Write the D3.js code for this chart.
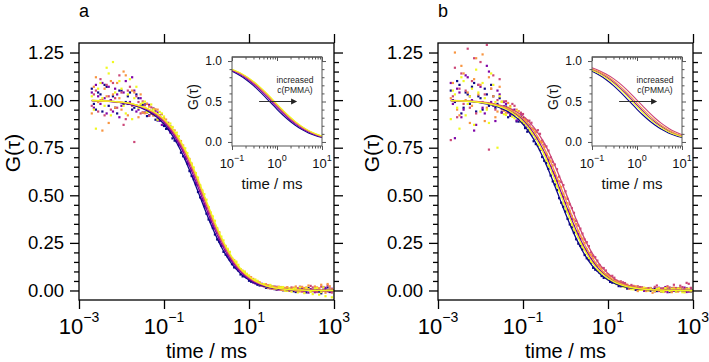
<!DOCTYPE html>
<html>
<head>
<meta charset="utf-8">
<script src="https://cdn.jsdelivr.net/npm/d3@7"></script>
<style>
  body { margin: 0; background: #fff; }
  svg { display: block; font-family: "Liberation Sans", Arial, sans-serif; }
</style>
</head>
<body>
<svg id="chart" width="709" height="362"></svg>
<script>
"use strict";

// lag times of the measured correlation curves (ms)
var lagTimes = [0.0020, 0.00224, 0.0025, 0.00282, 0.0032, 0.00355, 0.0040, 0.00447, 0.0050, 0.00562,
  0.0063, 0.00708, 0.0079, 0.00891, 0.0100, 0.0112, 0.0126, 0.0141, 0.0158, 0.0178,
  0.0200, 0.0224, 0.0251, 0.0282,
  0.0316, 0.0355, 0.0398, 0.0447, 0.0501, 0.0562, 0.0631, 0.0708, 0.0794, 0.0891,
  0.1, 0.112, 0.126, 0.141, 0.158, 0.178, 0.2, 0.224, 0.251, 0.282,
  0.316, 0.355, 0.398, 0.447, 0.501, 0.562, 0.631, 0.708, 0.794, 0.891,
  1, 1.12, 1.26, 1.41, 1.58, 1.78, 2, 2.24, 2.51, 2.82,
  3.16, 3.55, 3.98, 4.47, 5.01, 5.62, 6.31, 7.08, 7.94, 8.91,
  10, 11.2, 12.6, 14.1, 15.8, 17.8, 20, 22.4, 25.1, 28.2,
  31.6, 35.5, 39.8, 44.7, 50.1, 56.2, 63.1, 70.8, 79.4, 89.1,
  100, 112, 126, 141, 158, 178, 200, 224, 251, 282,
  316, 355, 398, 447, 501, 562, 631, 708, 794, 891];

// times at which the fitted curves are given (ms)
var fitTimes = [0.002, 0.005, 0.01, 0.02, 0.04, 0.07, 0.1, 0.15, 0.2, 0.3, 0.4, 0.55, 0.75, 1,
  1.35, 1.8, 2.5, 3.5, 5, 7, 10, 15, 25, 50, 100, 250, 1000];

// panel a - measured G(tau)
var navyA = [1.06, 0.98, 0.95, 1.04, 1.03, 0.94, 1.08, 1.07, 0.97, 1.00, 1.02, 0.96, 0.93, 1.05, 1.05, 0.98, 0.99, 1.02, 1.04, 0.95, 0.96, 1.03, 1.01, 0.97,
  0.976, 0.977, 0.916, 0.920, 0.943, 0.955, 0.897, 0.893, 0.912, 0.897, 0.864, 0.849, 0.858, 0.839, 0.799, 0.787, 0.783, 0.770, 0.724, 0.705,
  0.693, 0.667, 0.627, 0.601, 0.584, 0.557, 0.517, 0.489, 0.473, 0.443, 0.403, 0.373, 0.359, 0.328, 0.294, 0.268, 0.256, 0.235, 0.203, 0.188,
  0.178, 0.163, 0.138, 0.121, 0.120, 0.106, 0.084, 0.074, 0.076, 0.069, 0.051, 0.046, 0.052, 0.043, 0.030, 0.026, 0.029, 0.028,
  0.014, 0.013, 0.020, 0.020, 0.007, 0.004, 0.015, 0.013, 0.001, 0.002, 0.007, 0.009,
  0.011, -0.004, -0.008, 0.007, 0.006, 0.012, -0.005, -0.010, 0.013, 0.003, -0.003, 0.010, 0.009, -0.006, -0.015, 0.004, 0.006, 0.016, -0.008, -0.002];
var purpleA = [1.04, 0.96, 1.08, 1.02, 0.98, 1.09, 1.01, 0.93, 1.07, 1.00, 0.94, 1.06, 1.03, 0.91, 0.97, 1.04, 1.10, 0.98, 0.99, 1.12, 1.05, 0.94, 0.95, 1.01,
  0.935, 0.935, 0.980, 0.975, 0.928, 0.921, 0.944, 0.935, 0.891, 0.870, 0.896, 0.881, 0.848, 0.829, 0.843, 0.817, 0.785, 0.763, 0.762, 0.741,
  0.699, 0.675, 0.661, 0.634, 0.598, 0.566, 0.554, 0.523, 0.481, 0.455, 0.433, 0.407, 0.365, 0.341, 0.326, 0.303, 0.268, 0.244, 0.234, 0.213,
  0.182, 0.163, 0.157, 0.141, 0.118, 0.106, 0.107, 0.096, 0.075, 0.066, 0.067, 0.060, 0.041, 0.037, 0.040, 0.037, 0.035, 0.022,
  0.027, 0.025, 0.011, 0.009, 0.020, 0.019, 0.005, 0.004, 0.013, 0.012, -0.002, -0.002,
  -0.002, 0.006, 0.014, -0.005, -0.001, 0.011, 0.008, 0.002, -0.011, 0.007, 0.004, -0.009, 0.010, 0.003, -0.006, 0.018, 0.014, -0.004, -0.005, 0.009];
var pinkA = [0.97, 1.03, 1.05, 0.94, 1.11, 1.00, 0.92, 1.08, 1.02, 0.95, 1.09, 1.01, 0.96, 1.13, 1.04, 0.87, 0.90, 1.05, 1.07, 0.97, 0.78, 1.02, 0.99, 0.93,
  0.993, 0.973, 0.934, 0.918, 0.962, 0.956, 0.918, 0.900, 0.921, 0.926, 0.879, 0.871, 0.881, 0.864, 0.831, 0.808, 0.814, 0.791, 0.756, 0.733,
  0.728, 0.703, 0.666, 0.642, 0.624, 0.597, 0.556, 0.526, 0.509, 0.481, 0.453, 0.415, 0.385, 0.370, 0.343, 0.304, 0.281, 0.266, 0.244, 0.214,
  0.191, 0.186, 0.169, 0.140, 0.129, 0.122, 0.111, 0.091, 0.079, 0.083, 0.074, 0.054, 0.048, 0.050, 0.046, 0.030, 0.025, 0.032,
  0.020, 0.014, 0.026, 0.020, 0.009, 0.006, 0.016, 0.018, 0.004, 0.001, 0.015, 0.008,
  0.016, 0.004, -0.002, 0.012, 0.020, -0.006, -0.009, 0.015, 0.007, 0.024, 0.016, -0.004, -0.008, 0.010, 0.020, 0.002, -0.003, 0.027, 0.011, -0.011];
var orangeA = [0.93, 1.07, 1.12, 0.99, 1.00, 0.84, 1.06, 1.02, 0.88, 1.10, 1.03, 0.96, 1.09, 1.01, 0.95, 1.15, 1.13, 0.92, 0.98, 1.05, 1.04, 0.97, 0.91, 1.03,
  0.935, 0.931, 0.981, 0.966, 0.930, 0.919, 0.952, 0.950, 0.906, 0.897, 0.906, 0.898, 0.861, 0.851, 0.857, 0.841, 0.806, 0.783, 0.785, 0.762,
  0.727, 0.705, 0.691, 0.667, 0.626, 0.600, 0.581, 0.552, 0.525, 0.483, 0.454, 0.437, 0.409, 0.370, 0.345, 0.327, 0.306, 0.265, 0.245, 0.234,
  0.213, 0.186, 0.167, 0.160, 0.147, 0.119, 0.110, 0.104, 0.096, 0.075, 0.063, 0.070, 0.061, 0.045, 0.047, 0.043, 0.028, 0.023,
  0.033, 0.027, 0.014, 0.009, 0.019, 0.017, 0.020, 0.004, 0.002, 0.014, 0.017, 0.001,
  0.009, 0.015, 0.021, 0.003, -0.005, 0.019, 0.013, 0.008, 0.026, -0.006, -0.003, 0.021, 0.016, 0.011, 0.030, -0.002, -0.012, 0.034, 0.022, 0.006];
var yellowA = [1.02, 0.95, 0.85, 1.06, 1.09, 1.01, 0.97, 1.17, 1.14, 0.92, 1.20, 1.04, 0.99, 1.10, 1.06, 0.97, 0.93, 1.03, 1.11, 0.90, 1.01, 1.07, 0.96, 0.98,
  0.986, 0.992, 0.937, 0.938, 0.977, 0.951, 0.919, 0.897, 0.938, 0.930, 0.914, 0.879, 0.867, 0.877, 0.859, 0.826, 0.829, 0.810, 0.775, 0.749,
  0.747, 0.722, 0.687, 0.662, 0.646, 0.617, 0.593, 0.551, 0.523, 0.506, 0.477, 0.437, 0.407, 0.389, 0.366, 0.323, 0.302, 0.283, 0.263, 0.230,
  0.219, 0.203, 0.170, 0.156, 0.152, 0.135, 0.112, 0.101, 0.100, 0.088, 0.079, 0.059, 0.052, 0.058, 0.051, 0.035, 0.031, 0.034,
  0.021, 0.017, 0.029, 0.022, 0.011, 0.009, 0.017, 0.017, 0.018, -0.001, -0.002, 0.011,
  -0.006, 0.008, 0.011, -0.010, 0.016, 0.003, -0.014, 0.014, 0.006, -0.007, -0.019, 0.010, 0.012, -0.022, -0.008, 0.017, -0.030, 0.002, 0.004, -0.036];

// panel a - fitted curves
var navyFitA = [0.997, 0.993, 0.986, 0.972, 0.945, 0.908, 0.873, 0.821, 0.775, 0.696, 0.631, 0.554, 0.476, 0.404,
  0.333, 0.271, 0.209, 0.156, 0.112, 0.080, 0.055, 0.035, 0.019, 0.008, 0.003, 0.001, 0.000];
var purpleFitA = [0.997, 0.994, 0.987, 0.974, 0.950, 0.916, 0.883, 0.835, 0.791, 0.716, 0.653, 0.578, 0.500, 0.427,
  0.355, 0.290, 0.226, 0.170, 0.123, 0.089, 0.061, 0.039, 0.022, 0.009, 0.004, 0.001, 0.000];
var pinkFitA = [0.998, 0.994, 0.988, 0.976, 0.953, 0.921, 0.891, 0.845, 0.803, 0.731, 0.670, 0.596, 0.519, 0.446,
  0.372, 0.307, 0.239, 0.181, 0.132, 0.095, 0.066, 0.043, 0.024, 0.010, 0.004, 0.001, 0.000];
var orangeFitA = [0.998, 0.994, 0.989, 0.977, 0.956, 0.925, 0.897, 0.852, 0.812, 0.742, 0.683, 0.610, 0.534, 0.461,
  0.386, 0.319, 0.251, 0.191, 0.139, 0.101, 0.071, 0.046, 0.025, 0.011, 0.004, 0.001, 0.000];
var yellowFitA = [0.998, 0.995, 0.989, 0.978, 0.957, 0.928, 0.900, 0.857, 0.817, 0.749, 0.690, 0.618, 0.542, 0.469,
  0.395, 0.327, 0.257, 0.196, 0.143, 0.104, 0.073, 0.047, 0.026, 0.011, 0.004, 0.001, 0.000];

// panel b - measured G(tau)
var navyB = [1.05, 1.00, 0.99, 1.10, 1.08, 0.93, 0.96, 1.04, 1.03, 0.98, 1.07, 1.09, 0.94, 1.02, 1.01, 0.95, 1.06, 1.03, 0.97, 1.08, 1.02, 0.96, 0.98, 1.01,
  0.936, 0.967, 0.966, 0.910, 0.918, 0.945, 0.927, 0.888, 0.887, 0.912, 0.882, 0.853, 0.834, 0.843, 0.824, 0.784, 0.769, 0.762, 0.740, 0.701,
  0.681, 0.669, 0.639, 0.604, 0.573, 0.557, 0.528, 0.485, 0.461, 0.440, 0.415, 0.376, 0.347, 0.332, 0.304, 0.269, 0.246, 0.234, 0.216, 0.186,
  0.169, 0.162, 0.147, 0.119, 0.109, 0.105, 0.094, 0.076, 0.066, 0.071, 0.063, 0.045, 0.041, 0.042, 0.039, 0.023, 0.022, 0.027,
  0.026, 0.010, 0.011, 0.017, 0.018, 0.003, 0.002, 0.016, 0.011, 0.000, 0.008, 0.007,
  -0.002, 0.005, 0.011, -0.003, 0.006, 0.009, -0.007, 0.002, 0.012, -0.008, -0.005, 0.010, 0.007, -0.002, 0.013, 0.004, -0.004, 0.011, 0.006, -0.006];
var purpleB = [1.09, 0.98, 0.80, 1.06, 1.04, 0.91, 0.95, 1.13, 1.12, 1.02, 1.00, 0.84, 0.87, 1.08, 1.07, 0.96, 0.93, 1.18, 1.15, 0.99, 0.97, 0.89, 1.05, 1.03,
  0.934, 0.990, 0.980, 0.935, 0.924, 0.948, 0.950, 0.893, 0.902, 0.925, 0.906, 0.873, 0.860, 0.870, 0.852, 0.818, 0.797, 0.801, 0.779, 0.739,
  0.721, 0.710, 0.686, 0.649, 0.623, 0.603, 0.576, 0.537, 0.507, 0.492, 0.460, 0.423, 0.404, 0.376, 0.339, 0.311, 0.297, 0.272, 0.240, 0.219,
  0.212, 0.193, 0.164, 0.148, 0.142, 0.129, 0.104, 0.095, 0.092, 0.083, 0.075, 0.055, 0.049, 0.055, 0.046, 0.033, 0.027, 0.032,
  0.032, 0.016, 0.014, 0.021, 0.020, 0.008, 0.005, 0.016, 0.016, -0.001, 0.002, 0.011,
  0.013, 0.003, -0.004, 0.010, 0.014, -0.006, 0.005, 0.018, -0.009, 0.006, 0.013, -0.002, -0.005, 0.012, 0.008, 0.001, 0.015, -0.008, -0.006, 0.010];
var pinkB = [0.79, 1.02, 1.17, 0.91, 1.06, 1.14, 0.98, 1.05, 1.27, 0.96, 1.10, 1.22, 0.93, 1.08, 1.20, 0.99, 1.03, 1.29, 0.74, 1.06, 1.13, 0.95, 1.00, 1.11,
  0.951, 0.993, 0.994, 0.940, 0.936, 0.980, 0.970, 0.923, 0.916, 0.934, 0.927, 0.894, 0.887, 0.892, 0.881, 0.848, 0.833, 0.842, 0.823, 0.787,
  0.767, 0.757, 0.735, 0.699, 0.675, 0.662, 0.637, 0.598, 0.570, 0.554, 0.521, 0.481, 0.452, 0.433, 0.408, 0.366, 0.341, 0.325, 0.299, 0.268,
  0.254, 0.233, 0.200, 0.182, 0.175, 0.157, 0.134, 0.118, 0.118, 0.105, 0.084, 0.075, 0.077, 0.067, 0.051, 0.045, 0.048, 0.043,
  0.039, 0.025, 0.018, 0.029, 0.024, 0.012, 0.022, 0.018, 0.005, 0.006, 0.012, 0.012,
  0.012, 0.005, 0.019, 0.026, -0.003, 0.010, 0.012, -0.005, 0.022, 0.016, -0.003, 0.030, 0.013, 0.002, 0.025, 0.018, 0.008, 0.040, 0.035, 0.014];
var orangeB = [1.01, 1.09, 1.25, 0.95, 0.92, 1.18, 1.14, 1.00, 1.04, 0.88, 0.97, 1.11, 1.22, 1.03, 1.08, 1.24, 0.89, 0.96, 1.12, 1.06, 1.02, 0.91, 0.94, 1.07,
  0.992, 0.944, 0.934, 0.985, 0.969, 0.933, 0.922, 0.950, 0.942, 0.888, 0.894, 0.903, 0.894, 0.855, 0.849, 0.847, 0.835, 0.798, 0.780, 0.780,
  0.754, 0.719, 0.696, 0.682, 0.657, 0.616, 0.590, 0.575, 0.544, 0.508, 0.488, 0.459, 0.418, 0.391, 0.373, 0.349, 0.311, 0.286, 0.273, 0.250,
  0.217, 0.196, 0.188, 0.169, 0.143, 0.130, 0.127, 0.116, 0.094, 0.083, 0.082, 0.073, 0.055, 0.048, 0.051, 0.046, 0.042, 0.029,
  0.020, 0.031, 0.009, 0.014, 0.021, 0.022, -0.003, 0.006, 0.015, 0.014, -0.003, 0.000,
  0.009, -0.012, -0.004, 0.006, 0.013, -0.002, -0.003, 0.011, 0.016, 0.003, -0.009, 0.015, 0.007, -0.006, 0.012, 0.004, -0.004, 0.010, 0.009, -0.003];
var yellowB = [0.90, 1.05, 1.03, 0.96, 0.85, 1.12, 1.10, 0.92, 0.98, 1.02, 1.06, 0.87, 1.16, 1.04, 0.94, 1.09, 1.01, 0.95, 0.88, 1.14, 1.08, 0.99, 0.75, 1.02,
  0.991, 0.926, 0.922, 0.961, 0.960, 0.913, 0.905, 0.942, 0.923, 0.887, 0.877, 0.887, 0.873, 0.837, 0.823, 0.825, 0.807, 0.765, 0.744, 0.742,
  0.716, 0.683, 0.655, 0.643, 0.614, 0.575, 0.547, 0.526, 0.501, 0.457, 0.430, 0.412, 0.383, 0.346, 0.319, 0.304, 0.282, 0.245, 0.227, 0.217,
  0.196, 0.170, 0.150, 0.146, 0.130, 0.108, 0.097, 0.095, 0.086, 0.067, 0.059, 0.063, 0.057, 0.040, 0.033, 0.039, 0.032, 0.020,
  0.017, 0.025, 0.023, 0.007, 0.006, 0.015, 0.014, 0.003, 0.003, 0.013, 0.011, 0.000,
  0.010, 0.002, -0.001, 0.008, 0.010, -0.005, -0.008, 0.012, 0.004, -0.003, 0.010, 0.006, -0.006, 0.011, 0.005, -0.009, -0.010, 0.004, 0.007, -0.004];

// panel b - fitted curves
var navyFitB = [0.997, 0.993, 0.986, 0.972, 0.945, 0.908, 0.873, 0.821, 0.775, 0.696, 0.631, 0.554, 0.476, 0.404,
  0.333, 0.271, 0.209, 0.156, 0.112, 0.080, 0.055, 0.035, 0.019, 0.008, 0.003, 0.001, 0.000];
var purpleFitB = [0.998, 0.994, 0.988, 0.977, 0.955, 0.924, 0.894, 0.849, 0.809, 0.738, 0.678, 0.605, 0.528, 0.455,
  0.381, 0.314, 0.246, 0.187, 0.136, 0.099, 0.069, 0.044, 0.025, 0.011, 0.004, 0.001, 0.000];
var pinkFitB = [0.998, 0.995, 0.991, 0.982, 0.964, 0.939, 0.916, 0.878, 0.844, 0.783, 0.730, 0.662, 0.589, 0.517,
  0.442, 0.371, 0.296, 0.229, 0.170, 0.125, 0.089, 0.058, 0.033, 0.015, 0.006, 0.002, 0.000];
var orangeFitB = [0.998, 0.995, 0.989, 0.979, 0.959, 0.930, 0.903, 0.862, 0.824, 0.757, 0.700, 0.628, 0.553, 0.480,
  0.405, 0.337, 0.266, 0.203, 0.149, 0.109, 0.076, 0.050, 0.028, 0.012, 0.005, 0.001, 0.000];
var yellowFitB = [0.997, 0.994, 0.987, 0.975, 0.952, 0.918, 0.887, 0.840, 0.797, 0.724, 0.662, 0.587, 0.510, 0.437,
  0.364, 0.299, 0.233, 0.176, 0.127, 0.092, 0.064, 0.041, 0.023, 0.010, 0.004, 0.001, 0.000];

// axis ticks
var yMajor = [0, 0.25, 0.5, 0.75, 1.0, 1.25];
var xMajor = [1e-3, 1e-1, 1e1, 1e3];
var xTopTicks = [1e-1, 1e1, 1e3];
var insetXMajor = [0.1, 1, 10];
var insetYMajor = [0, 0.5, 1.0];

// plasma colours
var colors = ["#0d0887", "#7e03a8", "#cc4778", "#f89540", "#f0f921"];

var plotTop = 43, plotBottom = 300, plotW = 255;
var insetTop = 57, insetBottom = 146, insetW = 90;

var svg = d3.select("#chart");

function drawAxis(g, axis, tx, ty, color, width) {
  var ga = g.append("g")
    .attr("transform", "translate(" + tx + "," + ty + ")")
    .call(axis);
  ga.select(".domain").remove();
  ga.selectAll("line").style("stroke", color).style("stroke-width", width);
  ga.attr("font-family", null);
  return ga;
}

function drawPanel(p) {
  var x = d3.scaleLog().domain([1e-3, 1e3]).range([p.left, p.left + plotW]);
  var y = d3.scaleLinear().domain([-0.05, 1.3]).range([plotBottom, plotTop]);
  var g = svg.append("g").attr("class", "panel-" + p.label);

  //measured points
  p.points.forEach(function(vals, k){
    g.append("g").selectAll("rect")
      .data(vals.slice(0, lagTimes.length)).enter().append("rect")
      .attr("x", function(d, i){ return x(lagTimes[i]) - 1.1; })
      .attr("y", function(d){ return y(d) - 1.1; })
      .attr("width", 2.2)
      .attr("height", 2.2)
      .style("fill", colors[k]);
  });

  //fitted curves
  var line = d3.line()
    .x(function(d){ return x(d[0]); })
    .y(function(d){ return y(d[1]); })
    .curve(d3.curveMonotoneX);
  p.fits.forEach(function(vals, k){
    g.append("path")
      .datum(fitTimes.map(function(t, i){ return [t, vals[i]]; }))
      .attr("d", line)
      .style("fill", "none")
      .style("stroke", colors[k])
      .style("stroke-width", 1.3);
  });

  //frame and ticks
  g.append("rect")
    .attr("x", p.left).attr("y", plotTop)
    .attr("width", plotW).attr("height", plotBottom - plotTop)
    .style("fill", "none").style("stroke", "#000").style("stroke-width", 1.3);

  var yMinor = d3.range(1, 26).map(function(i){ return i * 0.05; })
    .filter(function(v){ return Math.abs(v / 0.25 - Math.round(v / 0.25)) > 1e-6; });

  var leftAx = drawAxis(g, d3.axisLeft(y).tickValues(yMajor).tickSize(9).tickPadding(6)
    .tickFormat(d3.format(".2f")), p.left, 0, "#000", 1.3);
  leftAx.selectAll("text").style("font-size", "18.5px").style("fill", "#000");
  drawAxis(g, d3.axisLeft(y).tickValues(yMinor).tickSize(5).tickFormat(""), p.left, 0, "#000", 1.3);
  drawAxis(g, d3.axisRight(y).tickValues(yMajor).tickSize(9).tickFormat(""), p.left + plotW, 0, "#000", 1.3);
  drawAxis(g, d3.axisRight(y).tickValues(yMinor).tickSize(5).tickFormat(""), p.left + plotW, 0, "#000", 1.3);
  drawAxis(g, d3.axisBottom(x).tickValues(xMajor).tickSize(9).tickFormat(""), 0, plotBottom, "#000", 1.3);
  drawAxis(g, d3.axisTop(x).tickValues(xTopTicks).tickSize(9).tickFormat(""), 0, plotTop, "#000", 1.3);

  //x tick labels with powers of ten
  var xl = g.selectAll(".xlab").data(xMajor).enter().append("text")
    .attr("class", "xlab")
    .attr("x", function(d){ return x(d); })
    .attr("y", 334)
    .attr("text-anchor", "middle");
  xl.append("tspan").text("10").style("font-size", "22px");
  xl.append("tspan")
    .text(function(d){ return String(Math.round(Math.log10(d))).replace("-", "\u2212"); })
    .attr("dy", -12)
    .style("font-size", "14px");

  //axis titles
  g.append("text")
    .attr("x", p.left + plotW / 2).attr("y", 357.5)
    .attr("text-anchor", "middle")
    .style("font-size", "20px")
    .text("time / ms");
  g.append("text")
    .attr("transform", "translate(" + (p.left - 59) + ",153) rotate(-90)")
    .attr("text-anchor", "middle")
    .style("font-size", "21px")
    .text("G(\u03c4)");
  g.append("text")
    .attr("x", p.left).attr("y", 17)
    .style("font-size", "18px")
    .text(p.label);

  drawInset(g, p);
}

function drawInset(g, p) {
  var ix = d3.scaleLog().domain([0.1, 10]).range([p.insetLeft, p.insetLeft + insetW]);
  var iy = d3.scaleLinear().domain([-0.05, 1.05]).range([insetBottom, insetTop]);
  var gi = g.append("g").attr("class", "inset");

  gi.append("rect")
    .attr("x", p.insetLeft).attr("y", insetTop)
    .attr("width", insetW).attr("height", insetBottom - insetTop)
    .style("fill", "#fff");

  var line = d3.line()
    .x(function(d){ return ix(d[0]); })
    .y(function(d){ return iy(d[1]); })
    .curve(d3.curveMonotoneX);
  p.fits.forEach(function(vals, k){
    var pts = fitTimes.map(function(t, i){ return [t, vals[i]]; })
      .filter(function(d){ return d[0] >= 0.1 && d[0] <= 10; });
    gi.append("path").datum(pts)
      .attr("d", line)
      .style("fill", "none")
      .style("stroke", colors[k])
      .style("stroke-width", 1.1);
  });

  gi.append("rect")
    .attr("x", p.insetLeft).attr("y", insetTop)
    .attr("width", insetW).attr("height", insetBottom - insetTop)
    .style("fill", "none").style("stroke", "#555").style("stroke-width", 1);
  gi.append("line")
    .attr("x1", p.insetLeft).attr("x2", p.insetLeft + insetW)
    .attr("y1", insetTop).attr("y2", insetTop)
    .style("stroke", "#777").style("stroke-width", 1.8);

  var xMinor = [0.2, 0.3, 0.4, 0.5, 0.6, 0.7, 0.8, 0.9, 2, 3, 4, 5, 6, 7, 8, 9];
  var yMinor = [0.1, 0.2, 0.3, 0.4, 0.6, 0.7, 0.8, 0.9];

  var lAx = drawAxis(gi, d3.axisLeft(iy).tickValues(insetYMajor).tickSize(4).tickPadding(6)
    .tickFormat(d3.format(".1f")), p.insetLeft, 0, "#555", 1);
  lAx.selectAll("text").style("font-size", "12px").style("fill", "#111");
  drawAxis(gi, d3.axisLeft(iy).tickValues(yMinor).tickSize(2.5).tickFormat(""), p.insetLeft, 0, "#555", 1);
  drawAxis(gi, d3.axisRight(iy).tickValues(insetYMajor).tickSize(4).tickFormat(""), p.insetLeft + insetW, 0, "#555", 1);
  drawAxis(gi, d3.axisRight(iy).tickValues(yMinor).tickSize(2.5).tickFormat(""), p.insetLeft + insetW, 0, "#555", 1);
  drawAxis(gi, d3.axisBottom(ix).tickValues(insetXMajor).tickSize(4).tickFormat(""), 0, insetBottom, "#555", 1);
  drawAxis(gi, d3.axisBottom(ix).tickValues(xMinor).tickSize(2.5).tickFormat(""), 0, insetBottom, "#555", 1);
  drawAxis(gi, d3.axisBottom(ix).tickValues(insetXMajor).tickSize(4).tickFormat(""), 0, insetTop, "#555", 1);
  drawAxis(gi, d3.axisBottom(ix).tickValues(xMinor).tickSize(2.5).tickFormat(""), 0, insetTop, "#555", 1);

  var xl = gi.selectAll(".ixlab").data(insetXMajor).enter().append("text")
    .attr("class", "ixlab")
    .attr("x", function(d){ return ix(d); })
    .attr("y", 168)
    .attr("text-anchor", "middle")
    .style("fill", "#111");
  xl.append("tspan").text("10").style("font-size", "13px");
  xl.append("tspan")
    .text(function(d){ return String(Math.round(Math.log10(d))).replace("-", "\u2212"); })
    .attr("dy", -7)
    .style("font-size", "9px");

  gi.append("text")
    .attr("x", p.insetLeft + 40).attr("y", 189)
    .attr("text-anchor", "middle")
    .style("font-size", "15px").style("fill", "#111")
    .text("time / ms");
  gi.append("text")
    .attr("transform", "translate(" + (p.insetLeft - 34) + ",97) rotate(-90)")
    .attr("text-anchor", "middle")
    .style("font-size", "14px").style("fill", "#111")
    .text("G(\u03c4)");

  //annotation arrow
  var ay = iy(0.5), ax0 = ix(0.4), ax1 = ix(2.8);
  gi.append("line")
    .attr("x1", ax0).attr("x2", ax1 - 5)
    .attr("y1", ay).attr("y2", ay)
    .style("stroke", "#333").style("stroke-width", 1.2);
  gi.append("path")
    .attr("d", "M" + ax1 + "," + ay + "L" + (ax1 - 6) + "," + (ay - 3) + "L" + (ax1 - 6) + "," + (ay + 3) + "Z")
    .style("fill", "#222");
  gi.append("text")
    .attr("x", p.insetLeft + 63).attr("y", 83)
    .attr("text-anchor", "middle")
    .style("font-size", "8.5px").style("fill", "#222")
    .text("increased");
  gi.append("text")
    .attr("x", p.insetLeft + 63).attr("y", 93)
    .attr("text-anchor", "middle")
    .style("font-size", "8.5px").style("fill", "#222")
    .text("c(PMMA)");
}

drawPanel({
  label: "a",
  left: 79,
  insetLeft: 232,
  points: [navyA, purpleA, pinkA, orangeA, yellowA],
  fits: [navyFitA, purpleFitA, pinkFitA, orangeFitA, yellowFitA]
});
drawPanel({
  label: "b",
  left: 438,
  insetLeft: 592,
  points: [navyB, purpleB, pinkB, orangeB, yellowB],
  fits: [navyFitB, purpleFitB, pinkFitB, orangeFitB, yellowFitB]
});
</script>
</body>
</html>
